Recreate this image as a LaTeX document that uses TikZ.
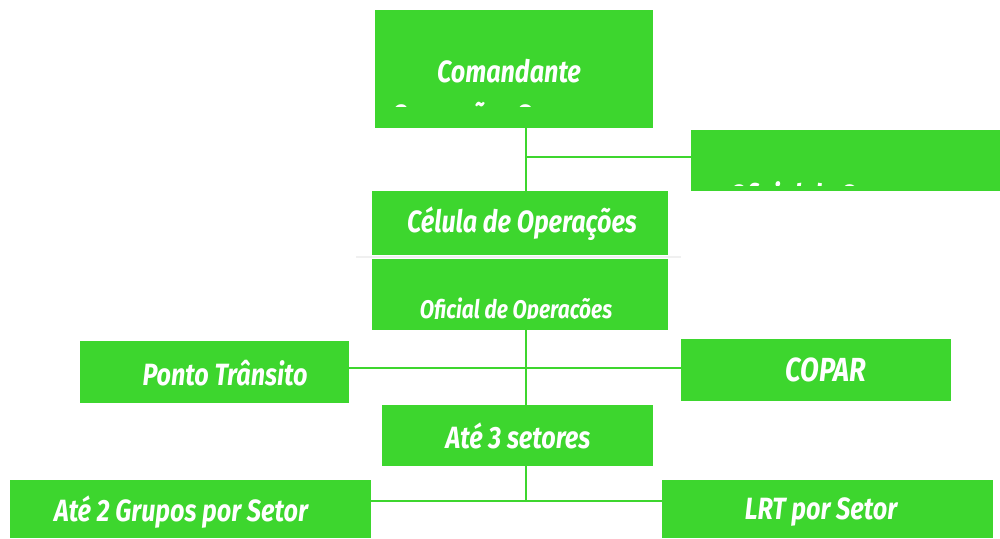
\documentclass[tikz,border=0pt]{standalone}
\usepackage{fontspec}
\setmainfont{Fira Sans}[FakeStretch=0.82]
\usetikzlibrary{positioning}

\definecolor{boxgreen}{RGB}{61,214,46}

\begin{document}
\begin{tikzpicture}[
    x=0.02cm, y=-0.02cm,
    box/.style={fill=boxgreen, rectangle, inner sep=0pt},
    boxtxt/.style={text=white, font=\fontsize{17.5}{21}\selectfont\bfseries\itshape, inner sep=0pt},
    smalltxt/.style={text=white, font=\fontsize{14.5}{17}\selectfont\bfseries\itshape, inner sep=0pt},
    link/.style={draw=boxgreen, line width=1.1pt}
]
    \useasboundingbox (0,0) rectangle (1000,538);

    % Command level
    \node[box, minimum width=5.56cm, minimum height=2.36cm] (cmd) at (514,69) {};
    \node[box, minimum width=6.18cm, minimum height=1.22cm] (seg) at (845.5,160.5) {};
    \node[boxtxt] (cmdtxt) at (509,71) {Comandante};
    \begin{scope}
        \clip (375,10) rectangle (653,106);
        \node[boxtxt] (cmdsub) at (514,118) {Operações Segurança};
    \end{scope}
    \begin{scope}
        \clip (691,130) rectangle (1000,185);
        \node[boxtxt] (segtxt) at (845,198) {Oficial de Segurança};
    \end{scope}

    % Operations cell
    \node[box, minimum width=5.92cm, minimum height=1.28cm] (cell) at (520,223) {};
    \node[boxtxt] (celltxt) at (522,224) {Célula de Operações};
    \draw[gray!12, line width=1.2pt] (356,257) -- (681,257);
    \node[box, minimum width=5.92cm, minimum height=1.42cm] (ops) at (520,294.5) {};
    \begin{scope}
        \clip (372,259) rectangle (668,318);
        \node[smalltxt] (opstxt) at (516,312) {Oficial de Operações};
    \end{scope}

    % Support and sectors
    \node[box, minimum width=5.38cm, minimum height=1.24cm] (transit) at (214.5,372) {};
    \node[boxtxt] (transittxt) at (225,373) {Ponto Trânsito};
    \node[box, minimum width=5.40cm, minimum height=1.24cm] (copar) at (816,370) {};
    \node[boxtxt, font=\fontsize{19}{22}\selectfont\bfseries\itshape] (copartxt) at (826,370) {COPAR};
    \node[box, minimum width=5.42cm, minimum height=1.22cm] (sectors) at (517.5,435.5) {};
    \node[boxtxt] (sectorstxt) at (518,436) {Até 3 setores};
    \node[box, minimum width=7.22cm, minimum height=1.16cm] (groups) at (190.5,509) {};
    \node[boxtxt] (groupstxt) at (181,512) {Até 2 Grupos por Setor};
    \node[box, minimum width=6.62cm, minimum height=1.16cm] (lrt) at (827.5,509) {};
    \node[boxtxt] (lrttxt) at (821,512) {LRT por Setor};

    % Connectors along the spine
    \coordinate (spine) at (526,0);
    \draw[link] (cmd.south -| spine) -- (cell.north -| spine);
    \draw[link] (seg.west |- 0,157) -- (spine |- 0,157);
    \draw[link] (ops.south -| spine) -- (sectors.north -| spine);
    \draw[link] (transit.east |- 0,368) -- (copar.west |- 0,368);
    \draw[link] (sectors.south -| spine) -- (spine |- 0,501);
    \draw[link] (groups.east |- 0,501) -- (lrt.west |- 0,501);
\end{tikzpicture}
\end{document}
